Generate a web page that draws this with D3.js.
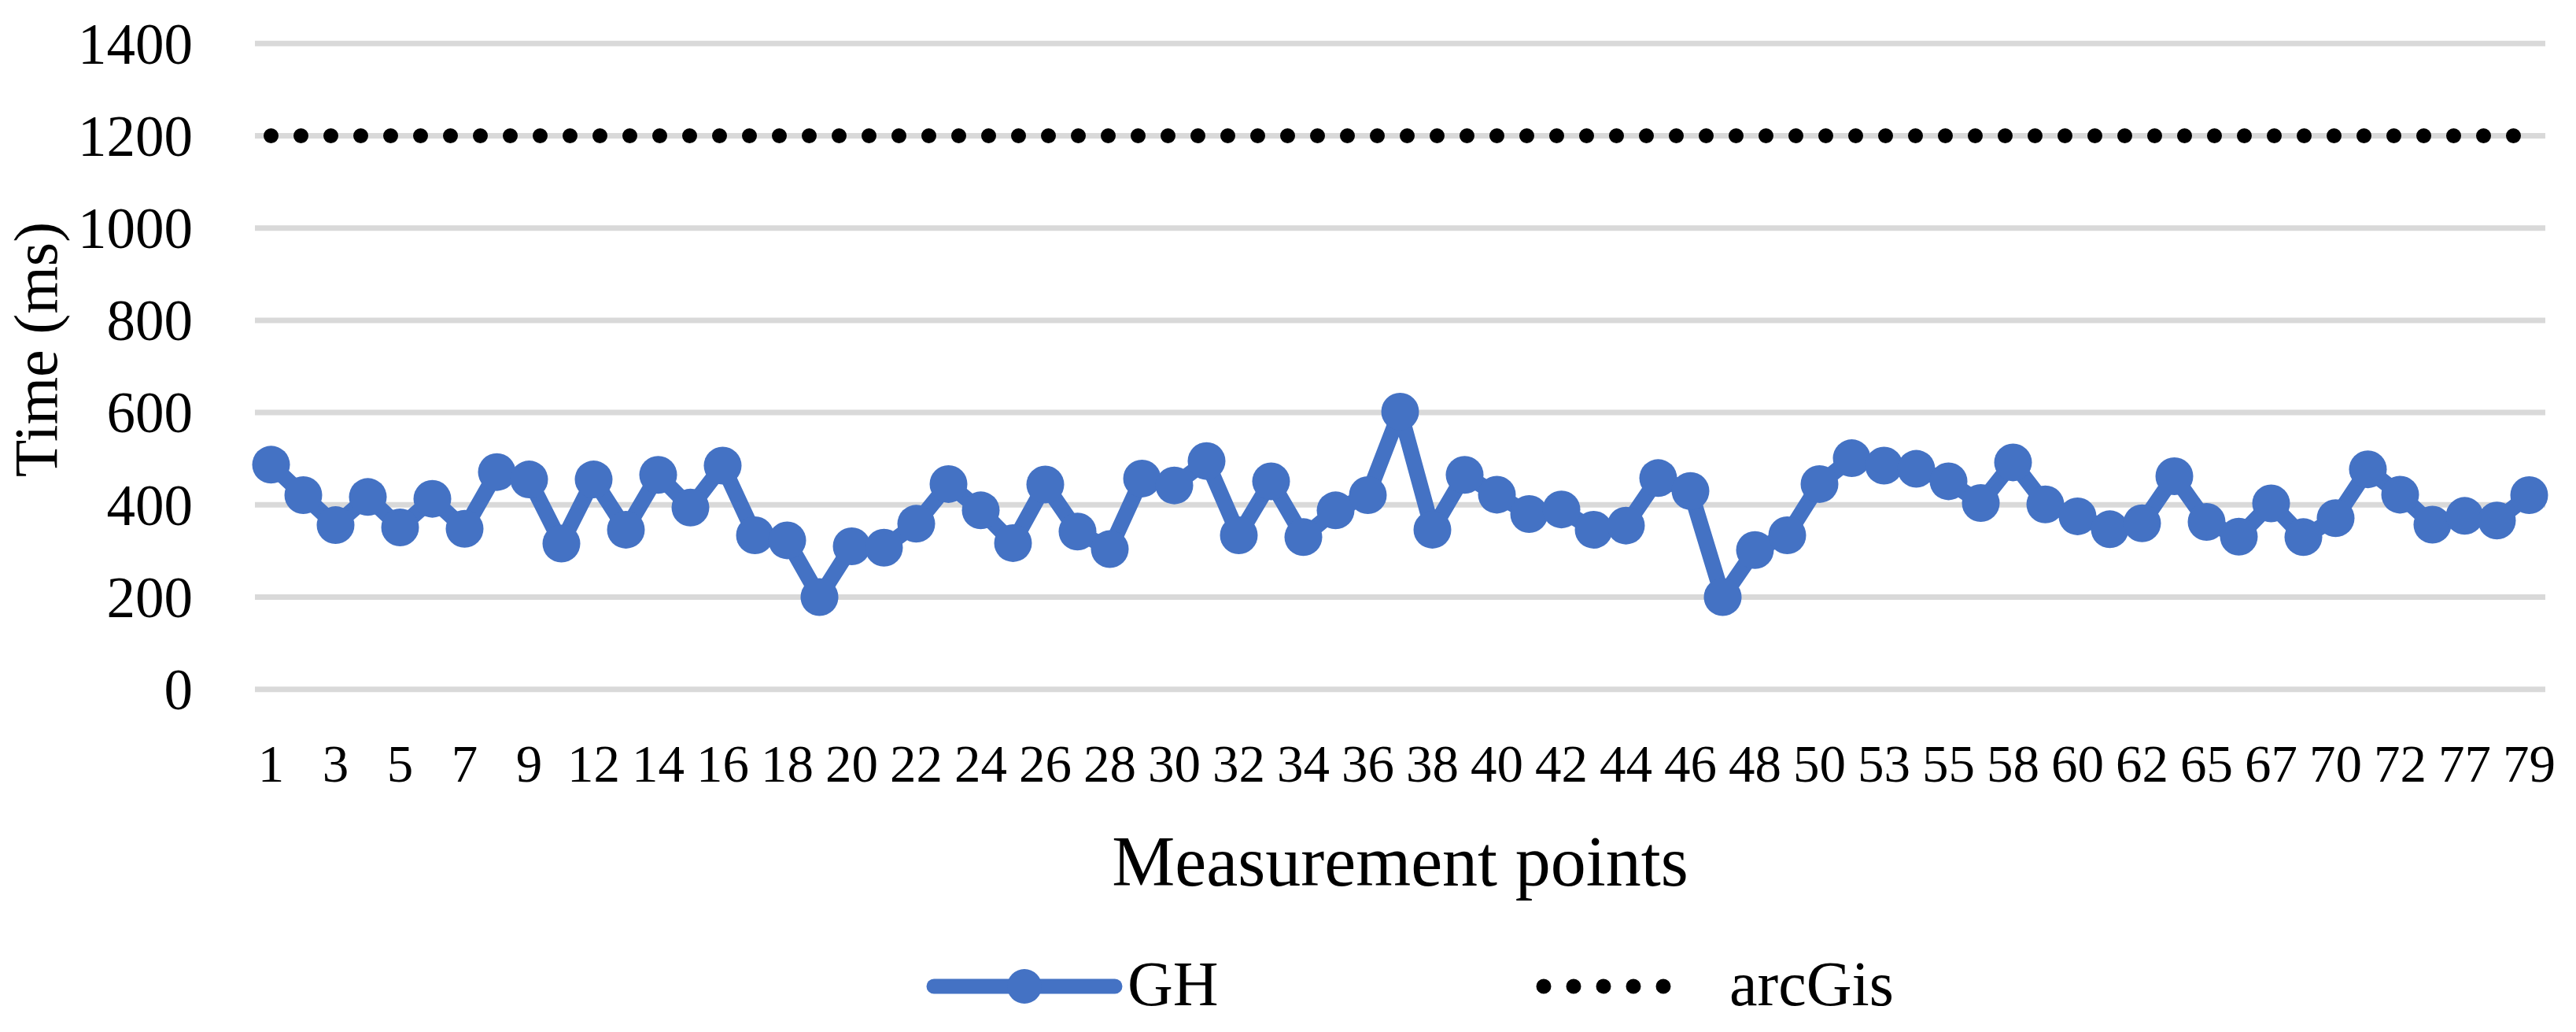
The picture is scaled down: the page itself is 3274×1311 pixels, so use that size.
<!DOCTYPE html>
<html>
<head>
<meta charset="utf-8">
<script src="https://cdn.jsdelivr.net/npm/d3@7"></script>
<style>
  html, body { margin: 0; padding: 0; background: #fff; }
  svg { display: block; }
  text { font-family: "Liberation Serif", "Times New Roman", serif; fill: #000; }
</style>
</head>
<body>
<svg id="chart" width="3274" height="1311"></svg>
<script>
// measurement point ids (only every other one is labelled on the axis)
const categories = [1, 2, 3, 4, 5, 6, 7, 8, 9, 10,
    12, 13, 14, 15, 16, 17, 18, 19, 20, 21, 22, 23, 24, 25, 26, 27, 28, 29, 30, 31,
    32, 33, 34, 35, 36, 37, 38, 39, 40, 41, 42, 43, 44, 45, 46, 47, 48, 49, 50, 51,
    53, 54, 55, 56, 58, 59, 60, 61, 62, 63, 65, 66, 67, 68, 70, 71, 72, 73, 77, 78, 79];

// GH response time (ms)
const ghValues = [487, 421, 356, 417, 351, 413, 348, 471, 455, 316,
    455, 346, 465, 394, 485, 334, 323, 200, 310, 307,
    359, 445, 388, 317, 444, 342, 304, 457, 442, 495,
    334, 451, 330, 388, 421, 602, 346, 465, 422, 380,
    390, 346, 355, 458, 430, 200, 302, 334, 445, 501,
    485, 478, 451, 404, 492, 401, 375, 347, 360, 462,
    363, 331, 403, 330, 371, 477, 422, 357, 376, 366, 421];

// arcGis response time (ms)
const arcGisValues = [1200, 1200, 1200, 1200, 1200, 1200, 1200, 1200, 1200, 1200,
    1200, 1200, 1200, 1200, 1200, 1200, 1200, 1200, 1200, 1200,
    1200, 1200, 1200, 1200, 1200, 1200, 1200, 1200, 1200, 1200,
    1200, 1200, 1200, 1200, 1200, 1200, 1200, 1200, 1200, 1200,
    1200, 1200, 1200, 1200, 1200, 1200, 1200, 1200, 1200, 1200,
    1200, 1200, 1200, 1200, 1200, 1200, 1200, 1200, 1200, 1200,
    1200, 1200, 1200, 1200, 1200, 1200, 1200, 1200, 1200, 1200, 1200];

const yTicks = [0, 200, 400, 600, 800, 1000, 1200, 1400];

const blue = "#4472C4";
const grid = "#D9D9D9";

const svg = d3.select("#chart");

const plot = {left: 324, right: 3235, top: 55.3, bottom: 875.7};

const x = d3.scaleBand().domain(categories).range([plot.left, plot.right]).padding(0);
const cx = d => x(d) + x.bandwidth() / 2;
const y = d3.scaleLinear().domain([0, 1400]).range([plot.bottom, plot.top]);

// gridlines
svg.append("g")
    .selectAll("line")
    .data(yTicks)
    .join("line")
    .attr("x1", plot.left).attr("x2", plot.right)
    .attr("y1", d => y(d)).attr("y2", d => y(d))
    .style("stroke", grid).style("stroke-width", 7);

// y axis labels
const yAxis = svg.append("g")
    .attr("transform", `translate(${plot.left},0)`)
    .call(d3.axisLeft(y).tickValues(yTicks).tickFormat(d3.format("d")).tickSize(0).tickPadding(79));
yAxis.select(".domain").remove();
yAxis.selectAll("text")
    .style("font-family", "Liberation Serif")
    .style("font-size", "73px")
    .attr("dy", "0.34em");

// x axis labels, every other category
const xAxis = svg.append("g")
    .attr("transform", `translate(0,${plot.bottom})`)
    .call(d3.axisBottom(x).tickValues(categories.filter((d, i) => i % 2 === 0)).tickSize(0));
xAxis.select(".domain").remove();
xAxis.selectAll("text")
    .style("font-family", "Liberation Serif")
    .style("font-size", "67px")
    .attr("y", 993 - plot.bottom)
    .attr("dy", 0);

// arcGis dotted line
const line = d3.line().x((d, i) => cx(categories[i])).y(d => y(d));
svg.append("path")
    .datum(arcGisValues)
    .attr("d", line)
    .style("fill", "none")
    .style("stroke", "#000")
    .style("stroke-width", 19)
    .style("stroke-linecap", "round")
    .style("stroke-dasharray", "0 38");

// GH line + markers
svg.append("path")
    .datum(ghValues)
    .attr("d", line)
    .style("fill", "none")
    .style("stroke", blue)
    .style("stroke-width", 20)
    .style("stroke-linejoin", "round");

svg.append("g")
    .selectAll("circle")
    .data(ghValues)
    .join("circle")
    .attr("cx", (d, i) => cx(categories[i]))
    .attr("cy", d => y(d))
    .attr("r", 24)
    .style("fill", blue);

// axis titles
svg.append("text")
    .attr("transform", "translate(72,444) rotate(-90)")
    .attr("text-anchor", "middle")
    .style("font-size", "78px")
    .text("Time (ms)");

svg.append("text")
    .attr("x", (plot.left + plot.right) / 2)
    .attr("y", 1125)
    .attr("text-anchor", "middle")
    .style("font-size", "90px")
    .text("Measurement points");

// legend
const lg = svg.append("g");
const ly = 1253;
lg.append("line")
    .attr("x1", 1187).attr("x2", 1417).attr("y1", ly).attr("y2", ly)
    .style("stroke", blue).style("stroke-width", 19).style("stroke-linecap", "round");
lg.append("circle").attr("cx", 1302).attr("cy", ly).attr("r", 22).style("fill", blue);
lg.append("text").attr("x", 1433).attr("y", 1277).style("font-size", "80px").text("GH");

lg.append("line")
    .attr("x1", 1962).attr("x2", 2152).attr("y1", ly).attr("y2", ly)
    .style("stroke", "#000").style("stroke-width", 19)
    .style("stroke-linecap", "round").style("stroke-dasharray", "0 38");
lg.append("text").attr("x", 2198).attr("y", 1277).style("font-size", "80px").text("arcGis");
</script>
</body>
</html>
